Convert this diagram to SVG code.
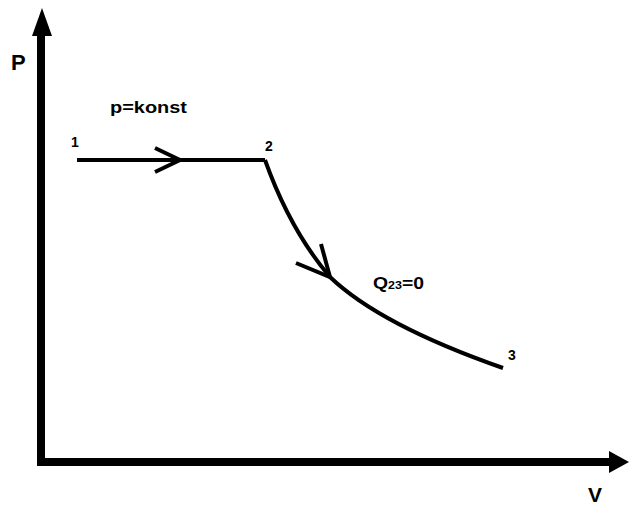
<svg xmlns="http://www.w3.org/2000/svg" width="630" height="507" viewBox="0 0 630 507">
<style>
.ax{stroke:#000;stroke-width:8;fill:none}
.ln{stroke:#000;stroke-width:4;fill:none;stroke-linecap:butt}
.chev{stroke:#000;stroke-width:4;fill:none}
.t{font-family:"Liberation Sans",Arial,sans-serif;font-weight:bold;fill:#000}
</style>
<rect width="630" height="507" fill="#fff"/>
<g id="axes">
<path class="ax" d="M41,466 V34 M37,462 H612"/>
<polygon points="42,8 32,36 52,36" fill="#000"/>
<polygon points="629,462 609,451 609,473" fill="#000"/>
<text class="t" x="11" y="70" font-size="22" font-weight="normal">P</text>
<text class="t" x="588" y="502" font-size="21" font-weight="normal">V</text>
</g>
<g id="connectors">
<path class="ln" d="M77,160 H265"/>
<path class="chev" d="M155,148 L180,160 L155,172"/>
<path class="ln" d="M265,160 Q290,230 330,277 Q380,325 503,368"/>
<path class="chev" d="M296,263 L330,277 L321,244"/>
</g>
<g id="n1"><text class="t" x="71" y="147" font-size="14">1</text></g>
<g id="n2"><text class="t" x="265" y="151" font-size="14">2</text></g>
<g id="n3"><text class="t" x="508" y="360" font-size="14">3</text></g>
<g id="lbl1"><text class="t" x="110" y="113" font-size="16" textLength="77" lengthAdjust="spacingAndGlyphs">p=konst</text></g>
<g id="lbl2"><text class="t" x="373" y="289" font-size="17" textLength="51" lengthAdjust="spacingAndGlyphs">Q<tspan font-size="11">23</tspan>=0</text></g>
</svg>
